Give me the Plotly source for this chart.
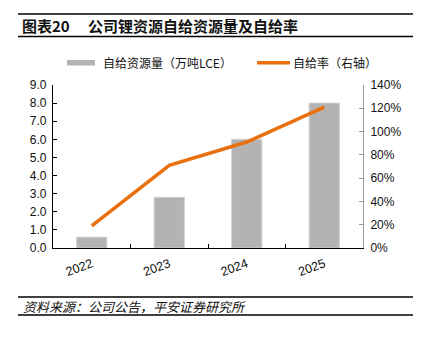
import plotly.graph_objects as go

years = ["2022", "2023", "2024", "2025"]
supply = [0.6, 2.8, 6.0, 8.0]          # 自给资源量（万吨LCE）
ratio = [19, 71, 91, 121]               # 自给率 %

left_ticks = [0, 1, 2, 3, 4, 5, 6, 7, 8, 9]
left_labels = ["0.0", "1.0", "2.0", "3.0", "4.0", "5.0", "6.0", "7.0", "8.0", "9.0"]
right_ticks = [0, 20, 40, 60, 80, 100, 120, 140]
right_labels = ["0%", "20%", "40%", "60%", "80%", "100%", "120%", "140%"]

title = "图表20　 公司锂资源自给资源量及自给率"
source = "资料来源：公司公告，平安证券研究所"
legend1 = "自给资源量（万吨LCE）"
legend2 = "自给率（右轴）"

W, Hh = 425, 341
L, R, T, B = 53, 62, 85, 93
PW, PH = W - L - R, Hh - T - B

def px(x):
    return (x - L) / PW

def py(y):
    return (Hh - B - y) / PH

GRAY = "#B3B3B3"
ORANGE = "#E8700F"
FONT = '"Liberation Sans", Arial, "Noto Sans CJK SC", sans-serif'
CJK = '"Noto Sans CJK SC", sans-serif'

fig = go.Figure()
fig.add_trace(go.Bar(x=years, y=supply, marker=dict(color=GRAY, line=dict(color="#D0D0D0", width=1)),
                     width=0.39, showlegend=False, yaxis="y"))
fig.add_trace(go.Scatter(x=years, y=ratio, mode="lines", line=dict(color=ORANGE, width=3.5),
                         showlegend=False, yaxis="y2"))

shapes = []
for y in (14, 36.5, 297, 315):
    shapes.append(dict(type="line", xref="paper", yref="paper", x0=px(18), x1=px(413),
                       y0=py(y), y1=py(y), line=dict(color="black", width=1.5)))
# legend swatches
shapes.append(dict(type="rect", xref="paper", yref="paper", x0=px(67), x1=px(95),
                   y0=py(65.5), y1=py(60), fillcolor=GRAY, line=dict(width=0)))
shapes.append(dict(type="line", xref="paper", yref="paper", x0=px(257), x1=px(290),
                   y0=py(62.7), y1=py(62.7), line=dict(color=ORANGE, width=3.5)))

annotations = [
    dict(text="<b>" + title + "</b>", xref="paper", yref="paper", x=px(20), y=py(25.5),
         xanchor="left", yanchor="middle", showarrow=False, font=dict(family=CJK, size=15, color="#111")),
    dict(text="<i>" + source + "</i>", xref="paper", yref="paper", x=px(21), y=py(306),
         xanchor="left", yanchor="middle", showarrow=False, font=dict(family=CJK, size=13, color="#111")),
    dict(text=legend1, xref="paper", yref="paper", x=px(101), y=py(62.7),
         xanchor="left", yanchor="middle", showarrow=False, font=dict(family=CJK, size=12, color="#111")),
    dict(text=legend2, xref="paper", yref="paper", x=px(291), y=py(62.7),
         xanchor="left", yanchor="middle", showarrow=False, font=dict(family=CJK, size=12, color="#111")),
]

fig.update_layout(
    width=W, height=Hh,
    margin=dict(l=L, r=R, t=T, b=B, pad=0),
    paper_bgcolor="white", plot_bgcolor="white",
    font=dict(family=FONT, size=12, color="#111"),
    xaxis=dict(type="category", tickangle=-20, showline=True, linecolor="black", linewidth=1.2,
               ticks="inside", ticklen=4, tickcolor="black", tickson="boundaries",
               showgrid=False, tickfont=dict(size=12.5), ticklabelstandoff=3),
    yaxis=dict(range=[0, 9], tickvals=left_ticks, ticktext=left_labels, showline=True,
               linecolor="black", linewidth=1.2, ticks="inside", ticklen=4, tickcolor="black",
               showgrid=False, zeroline=False, tickfont=dict(size=12), ticklabelstandoff=3),
    yaxis2=dict(range=[0, 140], tickvals=right_ticks, ticktext=right_labels, overlaying="y",
                side="right", showline=True, linecolor="#999", linewidth=1, ticks="inside",
                ticklen=4, tickcolor="#999", showgrid=False, zeroline=False, tickfont=dict(size=12),
                ticklabelstandoff=4),
    shapes=shapes, annotations=annotations, showlegend=False,
)

fig.write_html("out.html")
